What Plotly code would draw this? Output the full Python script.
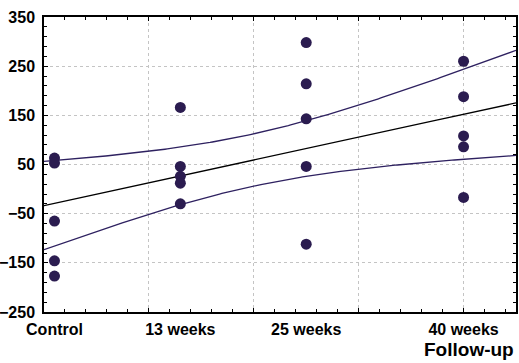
import numpy as np
import plotly.graph_objects as go

# Data
groups = ["Control", "13 weeks", "25 weeks", "40 weeks"]
group_x = [1, 13, 25, 40]
control_vals = [63, 53, -65, -146, -177]
wk13_vals = [166, 46, 26, 12, -30]
wk25_vals = [298, 214, 143, 46, -112]
wk40_vals = [260, 188, 108, 86, -17]
y_ticks = [-250, -150, -50, 50, 150, 250, 350]

all_vals = [control_vals, wk13_vals, wk25_vals, wk40_vals]
xs = np.concatenate([[gx] * len(v) for gx, v in zip(group_x, all_vals)]).astype(float)
ys = np.concatenate(all_vals).astype(float)

# Linear regression with 95% confidence band of the mean
n = len(xs)
xm, ym = xs.mean(), ys.mean()
sxx = ((xs - xm) ** 2).sum()
slope = ((xs - xm) * (ys - ym)).sum() / sxx
icpt = ym - slope * xm
resid = ys - (icpt + slope * xs)
s = np.sqrt((resid ** 2).sum() / (n - 2))
t_crit = 2.1009  # t(0.975, df=18)
xf = np.linspace(0, 45, 200)
yf = icpt + slope * xf
half = t_crit * s * np.sqrt(1 / n + (xf - xm) ** 2 / sxx)

band_color = "#2e2160"
mark_color = "#2b1c50"

fig = go.Figure()
fig.add_trace(go.Scatter(x=xf, y=yf + half, mode="lines",
                         line=dict(color=band_color, width=1.3), hoverinfo="skip"))
fig.add_trace(go.Scatter(x=xf, y=yf - half, mode="lines",
                         line=dict(color=band_color, width=1.3), hoverinfo="skip"))
fig.add_trace(go.Scatter(x=xf, y=yf, mode="lines",
                         line=dict(color="black", width=1.3), hoverinfo="skip"))
fig.add_trace(go.Scatter(x=xs, y=ys, mode="markers",
                         marker=dict(color=mark_color, size=11)))
# invisible trace to activate the labelled x axis
fig.add_trace(go.Scatter(x=[group_x[0]], y=[0], xaxis="x2", mode="markers",
                         marker=dict(opacity=0), hoverinfo="skip"))

font_main = dict(family="Liberation Sans, Arial, sans-serif", size=16, color="black", weight="bold")

fig.update_layout(
    width=519, height=363,
    margin=dict(l=44, r=3, t=17, b=51, autoexpand=False),
    paper_bgcolor="white", plot_bgcolor="white",
    showlegend=False,
    font=font_main,
    xaxis=dict(
        range=[0, 45], dtick=10, tick0=0, automargin=False,
        showgrid=True, gridcolor="#c4c4c4", griddash="dot", gridwidth=1,
        zeroline=False, showticklabels=False,
        ticks="inside", ticklen=4, tickcolor="black", tickwidth=1,
        minor=dict(dtick=2, ticks="inside", ticklen=3, tickcolor="black", showgrid=False),
        showline=True, linecolor="black", linewidth=1.5, mirror="ticks",
    ),
    xaxis2=dict(
        range=[0, 45], overlaying="x", side="bottom", automargin=False,
        tickvals=group_x, ticktext=groups, ticks="",
        showgrid=False, zeroline=False, showline=False,
        tickfont=font_main, ticklabelstandoff=6,
    ),
    yaxis=dict(
        range=[-250, 350], tickvals=y_ticks, automargin=False,
        showgrid=True, gridcolor="#c4c4c4", griddash="dot", gridwidth=1,
        zeroline=False,
        ticks="inside", ticklen=4, tickcolor="black", tickwidth=1,
        minor=dict(dtick=20, tick0=-250, ticks="inside", ticklen=3, tickcolor="black", showgrid=False),
        showline=True, linecolor="black", linewidth=1.5, mirror="ticks",
        tickfont=font_main, ticklabelstandoff=4,
    ),
    annotations=[dict(text="Follow-up", xref="paper", yref="paper", x=1.0, y=-0.085,
                      xanchor="right", yanchor="top", showarrow=False,
                      font=dict(family="Liberation Sans, Arial, sans-serif", size=19,
                                color="black", weight="bold"))],
)

fig.write_html("out.html", config={"displayModeBar": False},
               post_script="document.body.style.margin='0';")
